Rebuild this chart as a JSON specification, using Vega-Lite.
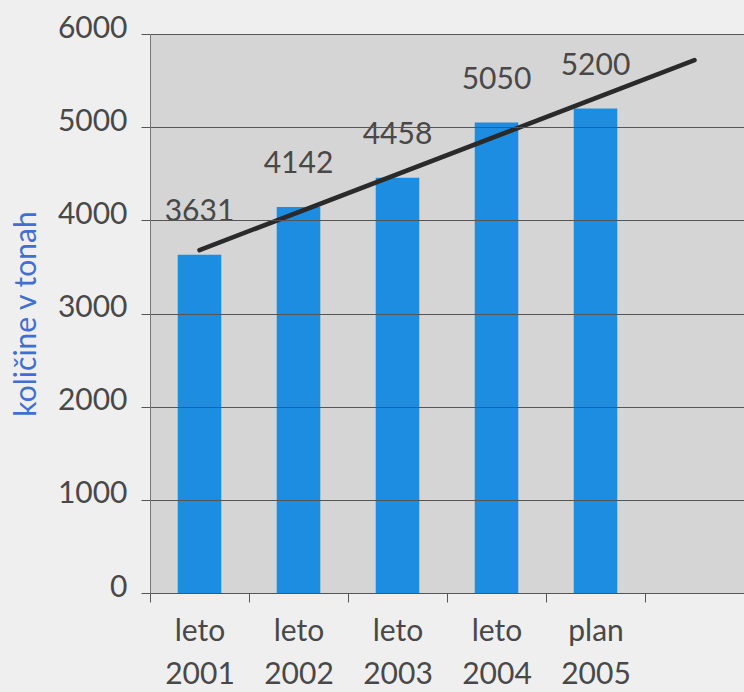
{
  "$schema": "https://vega.github.io/schema/vega-lite/v6.json",
  "autosize": "none",
  "padding": {"left": 150, "top": 34, "right": 0, "bottom": 99},
  "width": 594,
  "height": 559,
  "background": "#efefef",
  "config": {
    "view": {"fill": "#d5d5d5", "stroke": null},
    "font": "Lato"
  },
  "datasets": {
    "bars": [
      {"kat": "leto 2001", "kolicina": 3631},
      {"kat": "leto 2002", "kolicina": 4142},
      {"kat": "leto 2003", "kolicina": 4458},
      {"kat": "leto 2004", "kolicina": 5050},
      {"kat": "plan 2005", "kolicina": 5200}
    ],
    "trend": [
      {"kat": "leto 2001", "trend": 3680},
      {"kat": " ", "trend": 5719}
    ]
  },
  "encoding": {
    "x": {
      "field": "kat",
      "type": "nominal",
      "sort": null,
      "scale": {"domain": ["leto 2001", "leto 2002", "leto 2003", "leto 2004", "plan 2005", " "], "paddingInner": 0, "paddingOuter": 0},
      "axis": {
        "title": null,
        "labelAngle": 0,
        "tickBand": "extent",
        "tickSize": 9,
        "tickColor": "#555555",
        "domainColor": "#555555",
        "labelExpr": "split(datum.label, ' ')",
        "labelFontSize": 30,
        "labelFontWeight": "normal",
        "labelLineHeight": 43,
        "labelColor": "#484848",
        "labelPadding": 14,
        "labelBaseline": "top"
      }
    }
  },
  "layer": [
    {
      "data": {"name": "bars"},
      "mark": {"type": "bar", "color": "#1c8de0", "width": {"band": 0.44}},
      "encoding": {
        "y": {
          "field": "kolicina",
          "type": "quantitative",
          "scale": {"domain": [0, 6000], "nice": false},
          "axis": {
            "zindex": 1,
            "title": "količine v tonah",
            "titleColor": "#3f6fd2",
            "titleFontSize": 30,
            "titleFontWeight": "normal",
            "titlePadding": 16,
            "values": [0, 1000, 2000, 3000, 4000, 5000, 6000],
            "format": "d",
            "labelFontSize": 30,
            "labelFontWeight": "normal",
            "labelColor": "#484848",
            "labelPadding": 14,
            "labelOffset": -6,
            "tickSize": 9,
            "tickColor": "#555555",
            "domainColor": "#777777",
            "gridColor": "#555555",
            "gridWidth": 1,
            "gridOpacity": 1
          }
        }
      }
    },
    {
      "data": {"name": "bars"},
      "mark": {"type": "text", "baseline": "alphabetic", "dy": -34, "fontSize": 30, "fontWeight": "normal", "color": "#484848"},
      "encoding": {
        "y": {"field": "kolicina", "type": "quantitative"},
        "text": {"field": "kolicina", "type": "quantitative", "format": "d"}
      }
    },
    {
      "data": {"name": "trend"},
      "mark": {"type": "line", "color": "#2a2a2a", "strokeWidth": 4.5, "strokeCap": "round"},
      "encoding": {
        "y": {"field": "trend", "type": "quantitative"}
      }
    }
  ]
}
